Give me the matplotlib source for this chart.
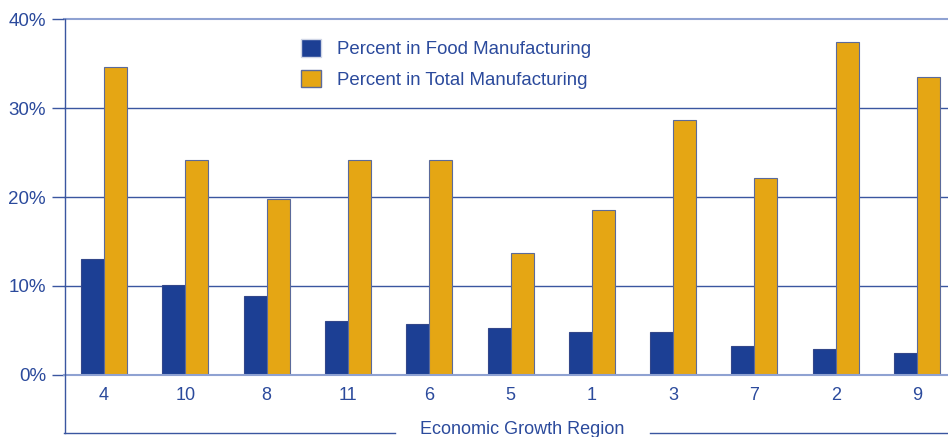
import numpy as np
import matplotlib.pyplot as plt
from matplotlib.patches import Patch
from matplotlib.lines import Line2D

regions = ['4', '10', '8', '11', '6', '5', '1', '3', '7', '2', '9']
food = [13.0, 10.1, 8.9, 6.05, 5.7, 5.3, 4.8, 4.85, 3.2, 2.9, 2.45]
total = [34.7, 24.2, 19.8, 24.2, 24.2, 13.7, 18.6, 28.7, 22.2, 37.5, 33.5]

navy = '#1c3f94'
gold = '#e5a614'
txt = '#2b4a9c'
grid = '#3a56a0'
light = '#8fa2d2'

plt.rcParams['font.family'] = ['Liberation Sans', 'DejaVu Sans']

fig = plt.figure(figsize=(9.48, 4.37), dpi=100)
W, H = 948, 437
ax = fig.add_axes([64 / W, 1 - 374.7 / H, 1 - 64 / W, (374.7 - 19.5) / H])

x = np.arange(len(regions))
w = 0.283
ax.bar(x - w / 2, food, w, color=navy, edgecolor='#33478a', linewidth=0.8, zorder=3)
ax.bar(x + w / 2, total, w, color=gold, edgecolor='#5b6a9a', linewidth=0.8, zorder=3)

ax.set_xlim(-0.492, 10.38)
ax.set_ylim(0, 40)
ax.set_yticks([0, 10, 20, 30, 40])
ax.set_yticklabels(['0%', '10%', '20%', '30%', '40%'])
ax.set_xticks(x)
ax.set_xticklabels(regions)
ax.tick_params(axis='x', length=0, pad=9, labelsize=13, labelcolor=txt)
ax.tick_params(axis='y', length=9, width=1, color=grid, pad=4, labelsize=13.5, labelcolor=txt)

for v in [10, 20, 30]:
    ax.axhline(v, color=grid, linewidth=1, zorder=1)
ax.axhline(40, color=light, linewidth=1.5, zorder=1, clip_on=False)
ax.axhline(0, color=light, linewidth=1.5, zorder=4, clip_on=False)
for s in ax.spines.values():
    s.set_visible(False)

# left axis line running down past the axes, and bottom rule with label
fig.add_artist(Line2D([64.5 / W, 64.5 / W], [1 - 19 / H, 1 - 433 / H], color=grid, linewidth=1))
fig.add_artist(Line2D([64 / W, 395 / W], [1 - 433 / H, 1 - 433 / H], color=grid, linewidth=1))
fig.add_artist(Line2D([650 / W, 1.0], [1 - 433 / H, 1 - 433 / H], color=grid, linewidth=1))
fig.text(522 / W, 1 - 429.5 / H, 'Economic Growth Region', ha='center', va='center',
         fontsize=13, color=txt)

handles = [Patch(facecolor=navy, edgecolor='#d0d6e6', label='Percent in Food Manufacturing'),
           Patch(facecolor=gold, edgecolor='#5b6a9a', label='Percent in Total Manufacturing')]
leg = fig.legend(handles=handles, loc='upper left', bbox_to_anchor=(294 / W, 1 - 32 / H),
                 frameon=False, fontsize=13.4, handlelength=1.05, handleheight=1.05,
                 handletextpad=0.85, labelspacing=0.6, borderaxespad=0)
for t in leg.get_texts():
    t.set_color(txt)

fig.savefig('out.png', dpi=100)
